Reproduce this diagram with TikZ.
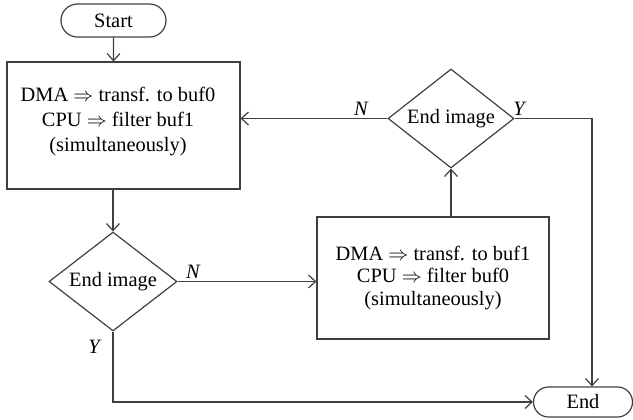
\documentclass[tikz,border=0pt]{standalone}
\usepackage{fontspec}
\setmainfont{Liberation Serif}
\usetikzlibrary{shapes.geometric,shapes.misc,arrows.meta}
\definecolor{ln}{HTML}{404040}
\tikzset{
  base/.style={draw=ln,line width=0.6pt,inner sep=0pt,font=\fontsize{10.2}{12}\selectfont,align=center},
  term/.style={base,rounded rectangle},
  procbox/.style={base,rectangle},
  decide/.style={base,diamond,shape aspect=1.3},
  arr/.style={draw=ln,line width=0.6pt,-{Straight Barb[length=3.5pt,width=6.5pt]}},
  lab/.style={font=\fontsize{10.2}{12}\selectfont\itshape,inner sep=0pt}
}
\begin{document}
\begin{tikzpicture}[x=0.5pt,y=-0.5pt]
\useasboundingbox (0,0) rectangle (633,419);
\node[term,minimum width=52.5pt,minimum height=16.5pt] (start) at (113.5,20.5) {Start};
\node[procbox,minimum width=116.5pt,minimum height=63.5pt] (box1) at (123.5,125.5) {};
\node[align=center,inner sep=0pt,font=\fontsize{10.2}{12.5}\selectfont] (t1) at (118,122) {DMA $\Rightarrow$ transf. to buf0\\CPU $\Rightarrow$ filter buf1\\(simultaneously)};
\node[decide,minimum width=64pt,minimum height=49.5pt] (d1) at (113,281.5) {End image};
\node[procbox,minimum width=116pt,minimum height=61pt,font=\fontsize{10.2}{11.2}\selectfont] (box2) at (433,278) {DMA $\Rightarrow$ transf. to buf1\\CPU $\Rightarrow$ filter buf0\\(simultaneously)};
\node[decide,minimum width=63pt,minimum height=49.5pt] (d2) at (451,118.5) {End image};
\node[term,minimum width=49.5pt,minimum height=15pt] (end) at (583,402) {End};
\path (end.north) ++(9,0) coordinate (ejoin);
\draw[arr] (start) -- (start.south |- box1.north);
\draw[arr] (box1.south -| d1.north) -- (d1.north);
\draw[arr] (d1.east) -- (d1.east -| box2.west);
\draw[arr] (box2.north -| d2.south) -- (d2.south);
\draw[arr] (d2.west) -- (d2.west -| box1.east);
\draw[arr] (d2.east) -| (ejoin);
\draw[arr] (d1.south) |- (end.west);
\node[lab] (n1) at (193,272) {N};
\node[lab] (y1) at (94,347) {Y};
\node[lab] (n2) at (361,109) {N};
\node[lab] (y2) at (519,109) {Y};
\end{tikzpicture}
\end{document}
